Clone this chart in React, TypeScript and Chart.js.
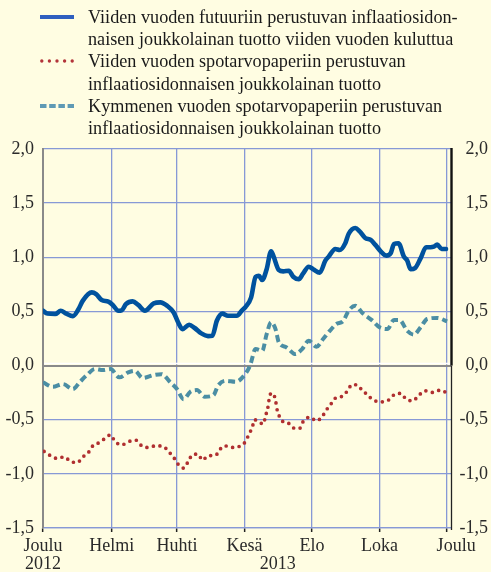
import React, { useEffect, useRef } from "react";
import { Chart, registerables } from "chart.js";

Chart.register(...registerables);

// ---- Data (x = days since 1 Dec 2012) ----
const monthTickDays = [0, 62, 121, 182, 243, 304, 365];
const monthTickLabels: (string | string[])[] = [["Joulu", "2012"], "Helmi", "Huhti", "Kesä", "Elo", "Loka", "Joulu"];
const yearLabel = "2013";
const yearLabelDay = 212;
const xMaxDay = 368.5;
const yMin = -1.5;
const yMax = 2.0;
const yStep = 0.5;

const seriesLabels = [
  ["Viiden vuoden futuuriin perustuvan inflaatiosidon-", "naisen joukkolainan tuotto viiden vuoden kuluttua"],
  ["Viiden vuoden spotarvopaperiin perustuvan", "inflaatiosidonnaisen joukkolainan tuotto"],
  ["Kymmenen vuoden spotarvopaperiin perustuvan", "inflaatiosidonnaisen joukkolainan tuotto"],
];

const futureDays = [0, 4, 11, 16, 21, 27, 32, 36, 44, 48, 53, 59, 63, 68, 71, 75, 81, 86, 92, 100, 106, 112, 118, 122, 126, 132, 137, 143, 149, 153, 157, 162, 167, 175, 180, 183, 188, 192, 195, 198, 202, 206, 208, 213, 217, 222, 226, 231, 235, 240, 244, 250, 255, 258, 264, 268, 273, 276, 282, 286, 291, 296, 300, 305, 310, 314, 317, 321, 326, 329, 332, 336, 341, 346, 350, 353, 356, 360, 364];
const futureValues = [0.506, 0.48, 0.476, 0.506, 0.48, 0.457, 0.52, 0.6, 0.676, 0.66, 0.605, 0.59, 0.56, 0.506, 0.51, 0.568, 0.593, 0.56, 0.506, 0.575, 0.584, 0.553, 0.49, 0.4, 0.337, 0.377, 0.347, 0.297, 0.272, 0.275, 0.414, 0.48, 0.46, 0.46, 0.513, 0.543, 0.63, 0.82, 0.83, 0.79, 0.89, 1.055, 1.015, 0.882, 0.87, 0.876, 0.82, 0.797, 0.852, 0.913, 0.89, 0.858, 0.969, 1.006, 1.077, 1.067, 1.13, 1.215, 1.27, 1.24, 1.178, 1.16, 1.117, 1.055, 1.015, 1.037, 1.123, 1.13, 1.006, 0.969, 0.89, 0.9, 0.99, 1.092, 1.092, 1.098, 1.117, 1.077, 1.077];

const fiveSpotDays = [1, 7, 13, 19, 25, 31, 36, 41, 45, 51, 56, 61, 65, 71, 78, 84, 89, 95, 102, 109, 114, 118, 122, 127, 131, 135, 140, 144, 149, 156, 160, 164, 171, 178, 183, 186, 189, 191, 195, 199, 201, 203, 204, 206, 210, 211, 213, 217, 222, 227, 232, 235, 241, 247, 252, 256, 260, 265, 270, 275, 279, 283, 288, 293, 298, 305, 312, 317, 323, 328, 334, 339, 345, 352, 359, 365];
const fiveSpotValues = [-0.793, -0.833, -0.858, -0.843, -0.886, -0.895, -0.843, -0.803, -0.741, -0.71, -0.673, -0.64, -0.7, -0.732, -0.7, -0.689, -0.74, -0.756, -0.741, -0.75, -0.8, -0.848, -0.91, -0.947, -0.889, -0.824, -0.818, -0.873, -0.833, -0.827, -0.772, -0.741, -0.756, -0.743, -0.7, -0.633, -0.571, -0.5, -0.52, -0.54, -0.464, -0.393, -0.325, -0.254, -0.316, -0.386, -0.457, -0.52, -0.534, -0.578, -0.578, -0.516, -0.476, -0.51, -0.473, -0.409, -0.356, -0.294, -0.285, -0.233, -0.177, -0.177, -0.224, -0.27, -0.316, -0.335, -0.319, -0.27, -0.257, -0.31, -0.325, -0.279, -0.233, -0.248, -0.226, -0.254];

const tenSpotDays = [0, 9, 18, 27, 33, 39, 47, 54, 61, 69, 77, 83, 90, 100, 107, 115, 121, 127, 133, 139, 146, 154, 158, 165, 174, 181, 187, 192, 198, 202, 206, 210, 213, 220, 228, 234, 240, 247, 253, 259, 265, 271, 276, 282, 289, 297, 304, 311, 317, 322, 329, 335, 341, 347, 356, 365];
const tenSpotValues = [-0.155, -0.196, -0.171, -0.217, -0.155, -0.094, -0.032, -0.042, -0.032, -0.109, -0.063, -0.048, -0.115, -0.088, -0.079, -0.155, -0.217, -0.31, -0.242, -0.226, -0.288, -0.273, -0.187, -0.14, -0.15, -0.1, 0.0, 0.152, 0.137, 0.29, 0.4, 0.337, 0.214, 0.168, 0.106, 0.152, 0.229, 0.174, 0.245, 0.32, 0.384, 0.41, 0.506, 0.553, 0.48, 0.42, 0.353, 0.337, 0.42, 0.42, 0.32, 0.285, 0.353, 0.43, 0.44, 0.408];

// ---- Styles ----
const BG = "#fffde2";
const GRID = "#8799d6";
const TEXT = "#2a2a2a";
const FONT = "'Liberation Serif', 'Times New Roman', serif";
const FS = 18;
const BLUE = "#00529e";
const RED = "#b02f30";
const TEAL = "#4b8ea4";
const LEG_BLUE = "#2f5fbf";
const LEG_RED = "#b3343a";
const LEG_TEAL = "#5f9ab5";
const LAST_LABEL_SHIFT = 9;
const RIGHT_LABEL_INSET = 3;

const fmt = (v: number) => v.toFixed(1).replace(".", ",");

function Sample({ kind }: { kind: number }) {
  if (kind === 0) {
    return (
      <svg width="34" height="8" style={{ display: "block" }}>
        <line x1="0" y1="4" x2="34" y2="4" stroke={LEG_BLUE} strokeWidth="4" />
      </svg>
    );
  }
  if (kind === 1) {
    return (
      <svg width="34" height="8" style={{ display: "block" }}>
        <line x1="1.8" y1="4" x2="34" y2="4" stroke={LEG_RED} strokeWidth="3.4" strokeLinecap="round" strokeDasharray="0 7.6" />
      </svg>
    );
  }
  return (
    <svg width="34" height="8" style={{ display: "block" }}>
      <line x1="0" y1="4" x2="34" y2="4" stroke={LEG_TEAL} strokeWidth="4" strokeDasharray="6.5 2.7" />
    </svg>
  );
}

export default function App() {
  const canvasRef = useRef<HTMLCanvasElement | null>(null);

  useEffect(() => {
    document.body.style.margin = "0";
    document.body.style.background = BG;
    const canvas = canvasRef.current;
    if (!canvas) return;

    const toPts = (xs: number[], ys: number[]) => xs.map((x, i) => ({ x, y: ys[i] }));

    const decorPlugin = {
      id: "decor",
      beforeDatasetsDraw(chart: any) {
        const { ctx, chartArea } = chart;
        const y0 = chart.scales.y.getPixelForValue(0);
        ctx.save();
        ctx.strokeStyle = "#ffffff";
        ctx.lineWidth = 1.6;
        ctx.beginPath();
        ctx.moveTo(chartArea.left + 1, y0 - 2);
        ctx.lineTo(chartArea.right, y0 - 2);
        ctx.stroke();
        ctx.restore();
      },
      afterDraw(chart: any) {
        const xs = chart.scales.x;
        const ys = chart.scales.y;
        const { ctx, chartArea } = chart;
        const y0 = ys.getPixelForValue(0);
        ctx.save();
        // right axis line: heavy above zero, thin below
        ctx.strokeStyle = "#111";
        ctx.lineWidth = 2.4;
        ctx.beginPath();
        ctx.moveTo(chartArea.right + 0.5, chartArea.top - 1);
        ctx.lineTo(chartArea.right + 0.5, y0);
        ctx.stroke();
        ctx.lineWidth = 1.3;
        ctx.strokeStyle = "#222";
        ctx.beginPath();
        ctx.moveTo(chartArea.right + 0.5, y0);
        ctx.lineTo(chartArea.right + 0.5, chartArea.bottom + 2);
        ctx.stroke();
        // labels
        ctx.font = `${FS}px ${FONT}`;
        ctx.fillStyle = TEXT;
        ctx.textBaseline = "middle";
        // right axis labels, right-aligned
        ctx.textAlign = "right";
        ys.ticks.forEach((t: any) => {
          ctx.fillText(fmt(t.value), chart.width - RIGHT_LABEL_INSET, ys.getPixelForValue(t.value));
        });
        ctx.textAlign = "center";
        ctx.fillText(yearLabel, xs.getPixelForValue(yearLabelDay), xs.top + 9 + FS * 1.5);
        const lastIdx = monthTickDays.length - 1;
        ctx.fillText(
          String(monthTickLabels[lastIdx]),
          xs.getPixelForValue(monthTickDays[lastIdx]) + LAST_LABEL_SHIFT,
          xs.top + 9 + FS * 0.5
        );
        ctx.restore();
      },
    };

    const chart = new Chart(canvas, {
      type: "line",
      data: {
        datasets: [
          {
            label: seriesLabels[0].join(" "),
            data: toPts(futureDays, futureValues),
            borderColor: BLUE,
            borderWidth: 4.6,
            pointRadius: 0,
            tension: 0.35,
            cubicInterpolationMode: "monotone",
            borderJoinStyle: "round",
            borderCapStyle: "round",
          },
          {
            label: seriesLabels[1].join(" "),
            data: toPts(fiveSpotDays, fiveSpotValues),
            borderColor: RED,
            borderWidth: 3.7,
            pointRadius: 0,
            tension: 0.35,
            cubicInterpolationMode: "monotone",
            borderDash: [0, 6.6],
            borderCapStyle: "round",
          },
          {
            label: seriesLabels[2].join(" "),
            data: toPts(tenSpotDays, tenSpotValues),
            borderColor: TEAL,
            borderWidth: 4,
            pointRadius: 0,
            tension: 0.35,
            cubicInterpolationMode: "monotone",
            borderDash: [7, 4],
          },
        ],
      },
      options: {
        animation: false,
        responsive: false,
        devicePixelRatio: 1,
        layout: { padding: { top: 149, left: 0, right: 0, bottom: 0 } },
        plugins: { legend: { display: false }, tooltip: { enabled: false } },
        scales: {
          x: {
            type: "linear",
            min: 0,
            max: xMaxDay,
            afterBuildTicks: (scale: any) => {
              scale.ticks = monthTickDays.map((v) => ({ value: v }));
            },
            afterFit: (scale: any) => {
              scale.height = 44;
            },
            grid: { color: GRID, lineWidth: 1.3, tickColor: "#222", tickLength: 4, tickWidth: 1.5 },
            border: { display: true, color: GRID, width: 1.3 },
            ticks: {
              autoSkip: false,
              maxRotation: 0,
              padding: 5,
              color: TEXT,
              font: { family: FONT, size: FS, lineHeight: 1 },
              callback: (v: any) => {
                const i = monthTickDays.indexOf(Number(v));
                if (i === monthTickDays.length - 1) return "";
                return i >= 0 ? (monthTickLabels[i] as any) : "";
              },
            },
          },
          y: {
            position: "left",
            min: yMin,
            max: yMax,
            afterFit: (scale: any) => {
              scale.width = 43;
            },
            grid: {
              color: (c: any) => (c.tick && Math.abs(c.tick.value) < 1e-9 ? "#8a8a8a" : GRID),
              lineWidth: (c: any) => (c.tick && Math.abs(c.tick.value) < 1e-9 ? 2 : 1.3),
              drawTicks: false,
            },
            border: { display: true, color: "#8a8a8a", width: 2 },
            ticks: {
              stepSize: yStep,
              padding: 9,
              color: TEXT,
              font: { family: FONT, size: FS },
              callback: (v: any) => fmt(Number(v)),
            },
          },
          y2: {
            position: "right",
            min: yMin,
            max: yMax,
            afterFit: (scale: any) => {
              scale.width = 40;
            },
            grid: { display: false, drawTicks: false },
            border: { display: false },
            ticks: { display: false, stepSize: yStep },
          },
        },
      },
      plugins: [decorPlugin],
    } as any);

    return () => chart.destroy();
  }, []);

  return (
    <div style={{ position: "relative", width: 491, height: 572, background: BG, overflow: "hidden" }}>
      <canvas ref={canvasRef} width={491} height={572} style={{ display: "block", position: "absolute", left: 0, top: 0 }} />
      <div
        style={{
          position: "absolute",
          left: 0,
          top: 6,
          fontFamily: FONT,
          fontSize: 18.2,
          lineHeight: "22.2px",
          color: "#1a1a1a",
          whiteSpace: "nowrap",
        }}
      >
        {seriesLabels.map((lines, k) => (
          <div key={k} style={{ position: "relative", paddingLeft: 88 }}>
            <div style={{ position: "absolute", left: 40, top: 7 }}>
              <Sample kind={k} />
            </div>
            {lines.map((ln, j) => (
              <div key={j}>{ln}</div>
            ))}
          </div>
        ))}
      </div>
    </div>
  );
}
